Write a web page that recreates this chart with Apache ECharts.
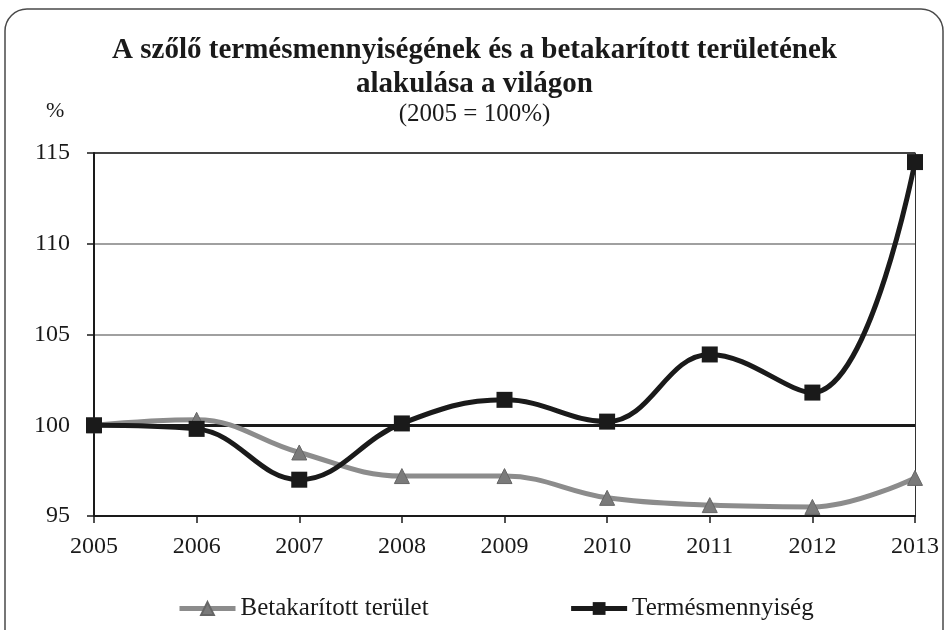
<!DOCTYPE html>
<html lang="hu">
<head>
    <meta charset="UTF-8"/>
    <title>A szőlő termésmennyisége</title>
    <style>
        * {
            padding: 0;
            margin: 0;
        }

        body {
            background: #fff;
            overflow: hidden;
        }

        .chart {
            width: 949px;
            height: 630px;
        }
    </style>
    <script type="text/javascript" src="https://cdn.jsdelivr.net/npm/echarts@6/dist/echarts.min.js"></script>
</head>
<body>
<div class="chart" id="chart"></div>
</body>
<script>
    const years = ["2005", "2006", "2007", "2008", "2009", "2010", "2011", "2012", "2013"];
    const terulet = [100, 100.3, 98.5, 97.2, 97.2, 96.0, 95.6, 95.5, 97.1];
    const termes = [100, 99.8, 97.0, 100.1, 101.4, 100.2, 103.9, 101.8, 114.5];
    const seriesNames = ["Betakarított terület", "Termésmennyiség"];

    const font = "'Liberation Serif', 'DejaVu Serif', serif";
    const dark = "#1a1a1a";

    const myChart = echarts.init(document.getElementById("chart"));

    const options = {
        animation: false,
        textStyle: {fontFamily: font, color: dark},
        title: {
            text: "A szőlő termésmennyiségének és a betakarított területének\nalakulása a világon",
            subtext: "(2005 = 100%)",
            left: "center",
            top: 29,
            itemGap: 0,
            textStyle: {
                fontFamily: font,
                fontSize: 29,
                fontWeight: "bold",
                color: dark,
                lineHeight: 34
            },
            subtextStyle: {
                fontFamily: font,
                fontSize: 25,
                color: dark,
                lineHeight: 24
            }
        },
        graphic: [
            {
                type: "rect",
                shape: {x: 5, y: 9, width: 938, height: 660, r: 22},
                style: {fill: "none", stroke: "#4a4a4a", lineWidth: 1.5},
                silent: true
            },
            {
                type: "text",
                left: 46,
                top: 100,
                style: {text: "%", font: "22px " + font, fill: dark}
            }
        ],
        legend: {
            left: 172,
            top: 591,
            itemWidth: 56,
            itemHeight: 16,
            itemGap: 140,
            lineStyle: {width: 5},
            textStyle: {fontFamily: font, fontSize: 25, color: dark},
            data: seriesNames
        },
        grid: {
            left: 94,
            right: 34,
            top: 153,
            bottom: 114
        },
        xAxis: {
            type: "category",
            data: years,
            boundaryGap: false,
            axisLine: {lineStyle: {color: dark, width: 2}},
            axisTick: {length: 7, lineStyle: {color: dark, width: 1.5}},
            axisLabel: {fontFamily: font, fontSize: 24, color: dark, margin: 19}
        },
        yAxis: [
            {
                type: "value",
                min: 95,
                max: 115,
                interval: 5,
                axisLine: {show: true, lineStyle: {color: dark, width: 2}},
                axisTick: {show: true, length: 7, lineStyle: {color: dark, width: 1.5}},
                axisLabel: {fontFamily: font, fontSize: 24, color: dark, margin: 24},
                splitLine: {
                    lineStyle: {
                        color: ["transparent", "transparent", "#a0a0a0", "#a0a0a0", "#444"],
                        width: 2
                    }
                }
            },
            {
                type: "value",
                min: 95,
                max: 115,
                interval: 5,
                position: "right",
                axisLine: {show: true, lineStyle: {color: "#333", width: 1}},
                axisTick: {show: false},
                axisLabel: {show: false},
                splitLine: {show: false}
            }
        ],
        series: [
            {
                name: seriesNames[0],
                type: "line",
                data: terulet,
                smooth: 0.4,
                symbol: "triangle",
                symbolSize: 15,
                lineStyle: {color: "#8c8c8c", width: 5},
                itemStyle: {color: "#7a7a7a", borderColor: "#666", borderWidth: 1},
                z: 3
            },
            {
                name: seriesNames[1],
                type: "line",
                data: termes,
                smooth: 0.4,
                symbol: "rect",
                symbolSize: 16,
                lineStyle: {color: dark, width: 5},
                itemStyle: {color: dark},
                z: 4,
                markLine: {
                    silent: true,
                    symbol: "none",
                    label: {show: false},
                    lineStyle: {color: dark, width: 3, type: "solid"},
                    data: [{yAxis: 100}],
                    z: 2
                }
            }
        ]
    };
    myChart.setOption(options);
</script>
</html>
